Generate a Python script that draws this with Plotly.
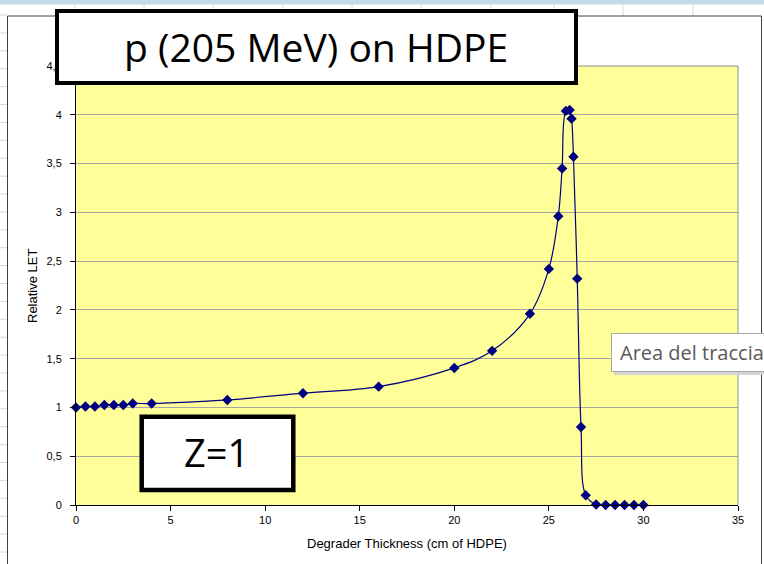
import plotly.graph_objects as go

# Relative LET of a 205 MeV proton beam behind HDPE degraders
thickness_cm = [0, 0.5, 1, 1.5, 2, 2.5, 3, 4, 8, 12, 16, 20, 22, 24,
                25, 25.5, 25.7, 25.9, 26.1, 26.2, 26.3, 26.5, 26.7, 26.95,
                27.5, 28, 28.5, 29, 29.5, 30]
relative_let = [1.0, 1.01, 1.01, 1.025, 1.025, 1.025, 1.04, 1.04, 1.077, 1.146,
                1.213, 1.405, 1.58, 1.96, 2.42, 2.96, 3.45, 4.04, 4.05, 3.96,
                3.57, 2.32, 0.80, 0.10, 0.005, 0, 0, 0, 0, 0]

x_ticks = [0, 5, 10, 15, 20, 25, 30, 35]
y_ticks = [0, 0.5, 1, 1.5, 2, 2.5, 3, 3.5, 4, 4.5]

title_text = "p (205 MeV) on HDPE"
charge_text = "Z=1"
x_title = "Degrader Thickness (cm of HDPE)"
y_title = "Relative LET"
tooltip_text = "Area del traccia"

W, H = 764, 564
L, R, T, B = 76, 26, 66, 59
PW, PH = W - L - R, H - T - B


def fx(px):
    """page pixel column -> paper x"""
    return (px - L) / PW


def fy(py):
    """page pixel row -> paper y"""
    return 1 - (py - T) / PH


NAVY = "#000080"
TICK_FONT = dict(family="Arial, Liberation Sans, sans-serif", size=11, color="black")

fig = go.Figure()
fig.add_trace(go.Scatter(
    x=thickness_cm, y=relative_let,
    mode="lines+markers",
    line=dict(color=NAVY, width=1.2, shape="spline", smoothing=1),
    marker=dict(symbol="diamond", size=8, color=NAVY),
    cliponaxis=False,
    showlegend=False,
))

shapes = []

# worksheet behind the chart: blue header strip, cell grid on the left and top
shapes.append(dict(type="rect", xref="paper", yref="paper",
                   x0=fx(0), x1=fx(W), y0=fy(0), y1=fy(4.5),
                   fillcolor="#bfdce8", line=dict(width=0), layer="below"))
row = 15.0
while row < H:
    shapes.append(dict(type="line", xref="paper", yref="paper",
                       x0=fx(0), x1=fx(7), y0=fy(row), y1=fy(row),
                       line=dict(color="#d6d6d6", width=1), layer="below"))
    row += 17.9
for col in [75, 144, 213, 283, 352, 421, 491, 554, 623, 693]:
    shapes.append(dict(type="line", xref="paper", yref="paper",
                       x0=fx(col), x1=fx(col), y0=fy(4.5), y1=fy(16),
                       line=dict(color="#d6d6d6", width=1), layer="below"))

# chart area frame
for (x0, y0, x1, y1) in [(7.5, 16, 7.5, H), (7.5, 16, 761.5, 16), (761.5, 16, 761.5, H)]:
    shapes.append(dict(type="line", xref="paper", yref="paper",
                       x0=fx(x0), x1=fx(x1), y0=fy(y0), y1=fy(y1),
                       line=dict(color="#404040", width=1), layer="below"))

# plot area border on top and right
shapes.append(dict(type="line", xref="paper", yref="paper", x0=0, x1=1, y0=1, y1=1,
                   line=dict(color="#909090", width=1)))
shapes.append(dict(type="line", xref="paper", yref="paper", x0=1, x1=1, y0=0, y1=1,
                   line=dict(color="#909090", width=1)))

# title box and charge box
shapes.append(dict(type="rect", xref="paper", yref="paper",
                   x0=fx(57), x1=fx(576), y0=fy(11), y1=fy(83),
                   fillcolor="white", line=dict(color="black", width=4), layer="above"))
shapes.append(dict(type="rect", xref="paper", yref="paper",
                   x0=fx(141.7), x1=fx(293.3), y0=fy(416.7), y1=fy(490),
                   fillcolor="white", line=dict(color="black", width=4.5), layer="above"))

# tooltip with soft shadow
shapes.append(dict(type="rect", xref="paper", yref="paper",
                   x0=fx(614), x1=fx(W + 10), y0=fy(336), y1=fy(375),
                   fillcolor="#d4d4d4", line=dict(width=0), layer="above"))
shapes.append(dict(type="rect", xref="paper", yref="paper",
                   x0=fx(611.5), x1=fx(W + 10), y0=fy(333.5), y1=fy(371.5),
                   fillcolor="white", line=dict(color="#a8a8a8", width=1), layer="above"))

annotations = [
    dict(text=title_text, xref="paper", yref="paper", x=fx(316), y=fy(47),
         xanchor="center", yanchor="middle", showarrow=False,
         font=dict(family="Open Sans", size=39, color="black")),
    dict(text=charge_text, xref="paper", yref="paper", x=fx(216), y=fy(452),
         xanchor="center", yanchor="middle", showarrow=False,
         font=dict(family="Open Sans", size=38, color="black")),
    dict(text=tooltip_text, xref="paper", yref="paper", x=fx(618), y=fy(352),
         xanchor="left", yanchor="middle", showarrow=False,
         font=dict(family="Open Sans", size=20, color="#595959")),
    dict(text=x_title, xref="paper", yref="paper", x=fx(407), y=fy(543),
         xanchor="center", yanchor="middle", showarrow=False,
         font=dict(family="Arial, Liberation Sans, sans-serif", size=13, color="black")),
    dict(text=y_title, xref="paper", yref="paper", x=fx(32), y=fy(286),
         xanchor="center", yanchor="middle", showarrow=False, textangle=-90,
         font=dict(family="Arial, Liberation Sans, sans-serif", size=13, color="black")),
]

fig.update_layout(
    width=W, height=H,
    margin=dict(l=L, r=R, t=T, b=B, pad=0),
    paper_bgcolor="white",
    plot_bgcolor="#FFFF99",
    separators=",.",
    shapes=shapes,
    annotations=annotations,
    xaxis=dict(range=[0, 35], tickvals=x_ticks, ticks="outside", ticklen=5,
               tickcolor="black", showline=True, linecolor="black", linewidth=1,
               showgrid=False, zeroline=False, tickfont=TICK_FONT, fixedrange=True),
    yaxis=dict(range=[0, 4.5], tickvals=y_ticks, ticks="outside", ticklen=5,
               tickcolor="black", showline=True, linecolor="black", linewidth=1,
               showgrid=True, gridcolor="#a6a6a6", gridwidth=1, zeroline=False,
               tickfont=TICK_FONT, ticklabelstandoff=6, fixedrange=True),
)

fig.write_html("out.html")
